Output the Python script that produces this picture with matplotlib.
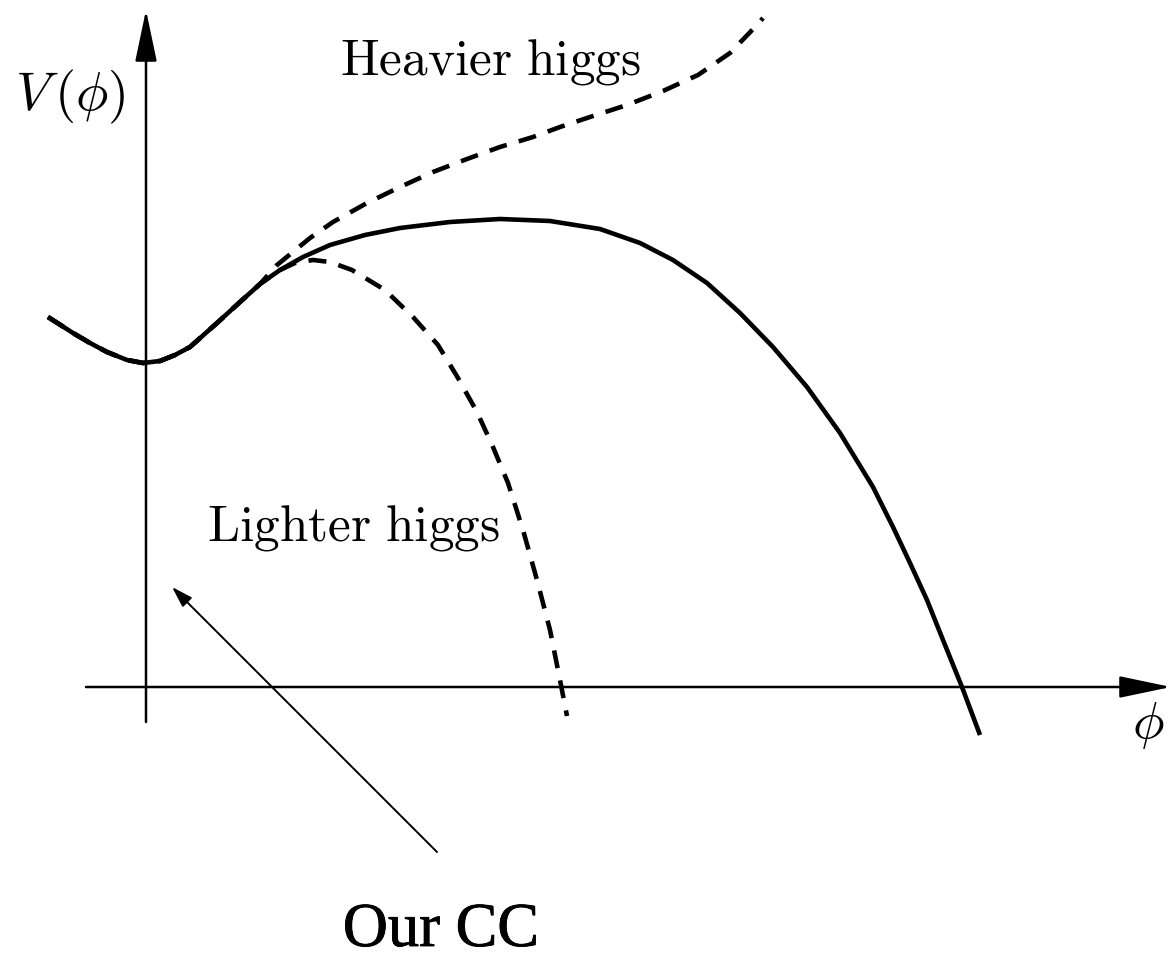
import numpy as np
import matplotlib.pyplot as plt
import matplotlib.patheffects as pe

plt.rcParams['mathtext.fontset'] = 'cm'
plt.rcParams['lines.scale_dashes'] = False

# schematic curves (pixel-like units, y grows downward)
# shared left part (all three curves lie on top of each other here)
left_x = [48, 73, 90, 107, 127, 143, 160, 175, 190, 217, 240, 260]
left_y = [317, 333, 343, 352, 360, 363, 361, 355, 347, 323, 302, 284]

solid_x = left_x + [280, 303, 330, 365, 400, 450, 500, 550, 600, 640, 673, 707,
                    740, 773, 807, 840, 873, 893, 910, 927, 943, 962, 980]
solid_y = left_y + [270, 257, 245, 235, 228, 222, 219, 221, 229, 243, 260, 283,
                    313, 347, 387, 433, 487, 527, 563, 600, 640, 687, 735]

heavy_x = left_x + [277, 310, 333, 367, 400, 433, 467, 500, 533, 560, 590, 627,
                    663, 698, 730, 757, 763]
heavy_y = left_y + [265, 238, 222, 203, 187, 172, 159, 147, 137, 127, 117, 105,
                    91, 75, 53, 25, 18]

light_x = left_x + [280, 295, 313, 330, 352, 385, 413, 438, 458, 477, 493, 508,
                    523, 537, 550, 560, 567]
light_y = left_y + [270, 263, 260, 262, 270, 290, 317, 345, 378, 412, 447, 483,
                    530, 580, 630, 680, 716]

fig = plt.figure(figsize=(11.71, 9.61), dpi=100)
ax = fig.add_axes([0, 0, 1, 1])
ax.set_xlim(0, 1171)
ax.set_ylim(961, 0)
ax.axis('off')

# axes with arrow heads
ax.annotate('', xy=(146, 10), xytext=(146, 722),
            arrowprops=dict(arrowstyle='-|>,head_length=2.0,head_width=0.42',
                            mutation_scale=16, lw=1.8, color='k',
                            shrinkA=0, shrinkB=0))
ax.annotate('', xy=(1171, 687), xytext=(86, 687),
            arrowprops=dict(arrowstyle='-|>,head_length=2.0,head_width=0.42',
                            mutation_scale=16, lw=1.8, color='k',
                            shrinkA=0, shrinkB=0))

ax.plot(solid_x, solid_y, color='k', lw=3.3, solid_capstyle='butt',
        solid_joinstyle='round')
ax.plot(heavy_x, heavy_y, color='k', lw=3.3, dashes=(13, 9), dash_capstyle='butt',
        dash_joinstyle='round')
ax.plot(light_x, light_y, color='k', lw=3.3, dashes=(13, 9), dash_capstyle='butt',
        dash_joinstyle='round')

# pointer to the minimum
ax.annotate('', xy=(172, 587), xytext=(437, 852),
            arrowprops=dict(arrowstyle='-|>,head_length=0.8,head_width=0.25',
                            mutation_scale=16, lw=1.4, color='k',
                            shrinkA=0, shrinkB=0))

ax.text(70, 97, r'$V\,(\phi)$', fontsize=39, ha='center', va='center')
ax.text(1148, 725, r'$\phi$', fontsize=38, ha='center', va='center')
ax.text(490, 62, r'$\mathrm{Heavier\ higgs}$', fontsize=37, ha='center', va='center')
ax.text(354, 528, r'$\mathrm{Lighter\ higgs}$', fontsize=37, ha='center', va='center')
ax.text(441, 946, 'Our CC', fontsize=45, family='Liberation Serif',
        ha='center', va='baseline',
        path_effects=[pe.withStroke(linewidth=0.6, foreground='k')])

fig.savefig('out.png', dpi=100)
